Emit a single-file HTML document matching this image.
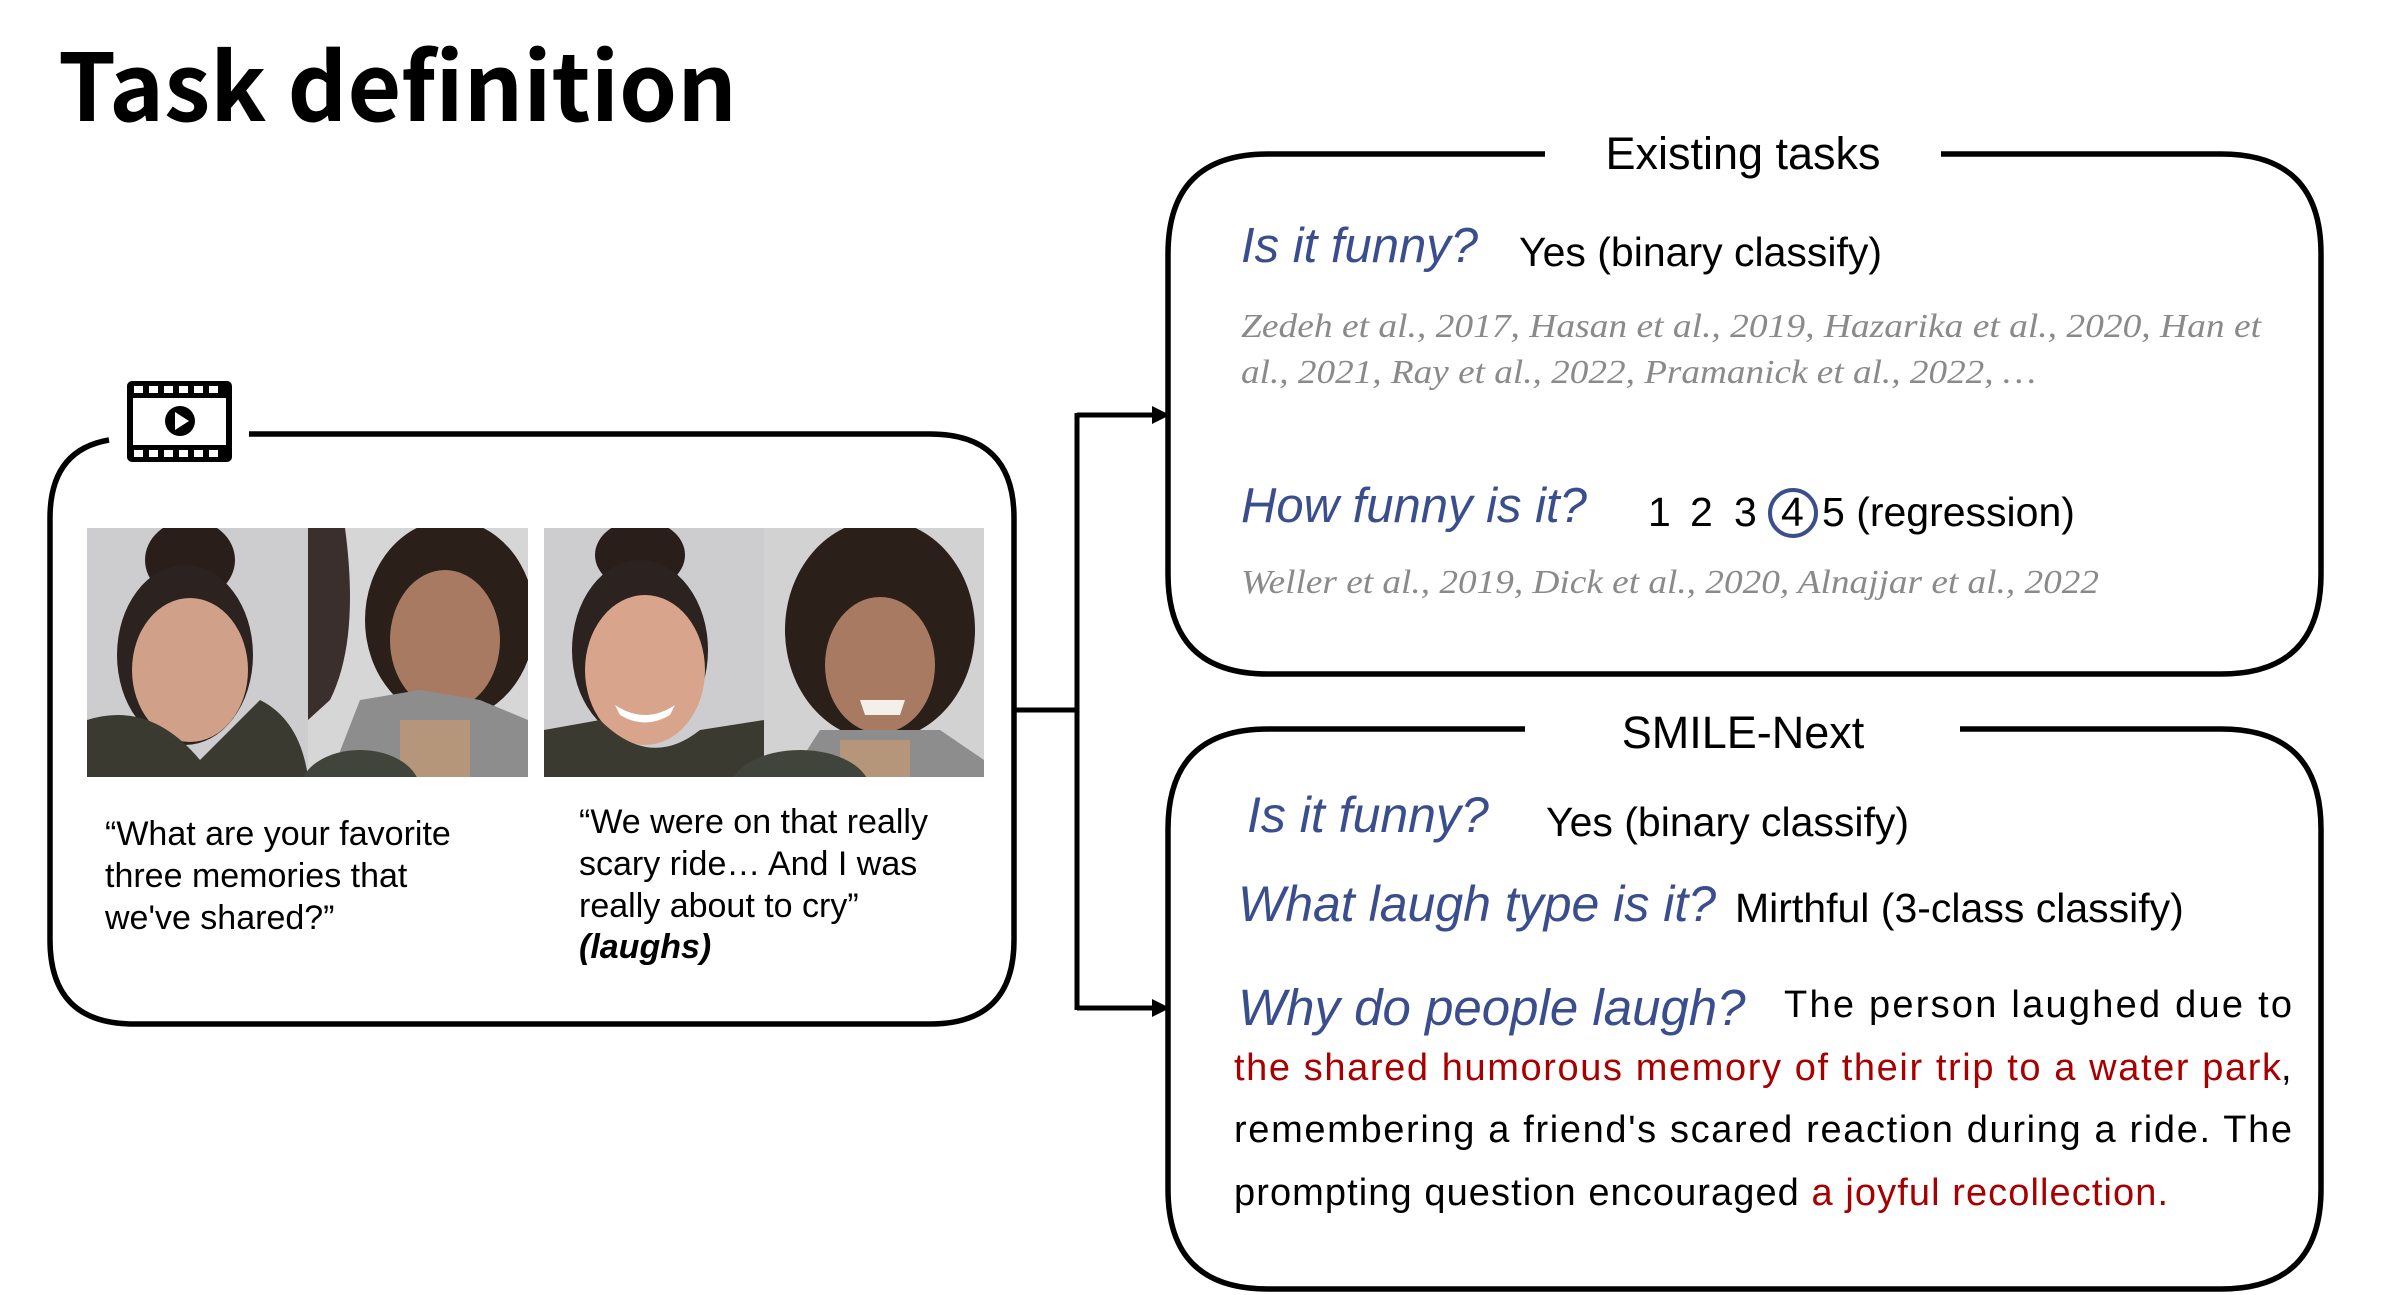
<!DOCTYPE html>
<html><head><meta charset="utf-8"><style>
html,body{margin:0;padding:0;background:#fff;}
svg{display:block;}
.ko{font-family:"Liberation Sans","Noto Sans CJK KR",sans-serif;}
</style></head><body>
<svg width="2395" height="1295" viewBox="0 0 2395 1295" xmlns="http://www.w3.org/2000/svg">
<defs>
<clipPath id="c1"><rect x="87" y="528" width="441" height="249"/></clipPath>
<clipPath id="c2"><rect x="544" y="528" width="440" height="249"/></clipPath>
<marker id="ah" markerWidth="18" markerHeight="18" refX="14" refY="9" orient="auto" markerUnits="userSpaceOnUse"><path d="M0,0 L18,9 L0,18 z" fill="#000"/></marker>
</defs>
<text x="58" y="121" font-family="'Noto Sans CJK KR','Liberation Sans',sans-serif" font-weight="bold" font-size="93" fill="#000">Task definition</text>

<!-- left box -->
<path d="M249,434 L930,434 Q1014,434 1014,518 L1014,940 Q1014,1024 930,1024 L134,1024 Q50,1024 50,940 L50,518 Q50,450 109,440" fill="none" stroke="#000" stroke-width="5.5"/>
<g>
<rect x="127" y="381" width="105" height="81" rx="5" fill="#000"/>
<rect x="133" y="398" width="93" height="47" fill="#fff"/>
<g fill="#fff">
<rect x="134" y="386" width="9" height="7"/><rect x="149" y="386" width="9" height="7"/><rect x="164" y="386" width="9" height="7"/><rect x="179" y="386" width="9" height="7"/><rect x="194" y="386" width="9" height="7"/><rect x="209" y="386" width="9" height="7"/>
<rect x="134" y="450" width="9" height="7"/><rect x="149" y="450" width="9" height="7"/><rect x="164" y="450" width="9" height="7"/><rect x="179" y="450" width="9" height="7"/><rect x="194" y="450" width="9" height="7"/><rect x="209" y="450" width="9" height="7"/>
</g>
<circle cx="180" cy="421" r="15" fill="#000"/>
<path d="M175,412 L189,421 L175,430 z" fill="#fff"/>
</g>

<g clip-path="url(#c1)">
<rect x="87" y="528" width="221" height="249" fill="#cdcdcf"/>
<ellipse cx="190" cy="560" rx="45" ry="40" fill="#2a1e1a"/>
<ellipse cx="185" cy="655" rx="68" ry="90" fill="#2c2220"/>
<ellipse cx="190" cy="670" rx="58" ry="72" fill="#d0a088"/>
<path d="M87,720 Q150,700 200,760 L260,700 Q300,720 308,777 L87,777 z" fill="#3b3a30"/>
<rect x="308" y="528" width="220" height="249" fill="#d6d6d6"/>
<path d="M308,528 L345,528 Q360,640 330,700 L308,720 z" fill="#3a2f2c"/>
<ellipse cx="450" cy="620" rx="85" ry="100" fill="#2a1f19"/>
<ellipse cx="445" cy="640" rx="55" ry="70" fill="#a87a62"/>
<path d="M360,700 L420,690 L480,700 L528,720 L528,777 L330,777 z" fill="#8d8d8d"/>
<path d="M400,720 L470,720 L470,777 L400,777 z" fill="#b5967a"/>
<ellipse cx="360" cy="790" rx="60" ry="40" fill="#40443a"/>
</g>
<g clip-path="url(#c2)">
<rect x="544" y="528" width="220" height="249" fill="#cdcdcf"/>
<ellipse cx="640" cy="555" rx="45" ry="35" fill="#2a1e1a"/>
<ellipse cx="640" cy="650" rx="68" ry="90" fill="#2c2220"/>
<ellipse cx="645" cy="670" rx="60" ry="75" fill="#d8a48c"/>
<path d="M615,705 Q645,725 675,705 L670,715 Q645,730 620,715 z" fill="#fff"/>
<path d="M544,730 L600,720 Q650,770 700,730 L764,720 L764,777 L544,777 z" fill="#3b3a30"/>
<rect x="764" y="528" width="220" height="249" fill="#d2d2d2"/>
<ellipse cx="880" cy="630" rx="95" ry="110" fill="#2a1f19"/>
<ellipse cx="880" cy="665" rx="55" ry="68" fill="#a87a62"/>
<path d="M860,700 L905,700 L900,715 L865,715 z" fill="#f2f0e8"/>
<path d="M820,730 L940,730 L984,760 L984,777 L790,777 z" fill="#8d8d8d"/>
<rect x="840" y="740" width="70" height="37" fill="#b5967a"/>
<ellipse cx="800" cy="790" rx="70" ry="40" fill="#40443a"/>
</g>

<g font-family="'Liberation Sans',sans-serif" font-size="34" fill="#000">
<text x="105" y="845">“What are your favorite</text>
<text x="105" y="887">three memories that</text>
<text x="105" y="929">we've shared?”</text>
<text x="579" y="833">“We were on that really</text>
<text x="579" y="875">scary ride… And I was</text>
<text x="579" y="917">really about to cry”</text>
<text x="579" y="958" font-style="italic" font-weight="bold">(laughs)</text>
</g>

<path d="M1014,710 L1077,710" stroke="#000" stroke-width="5"/>
<path d="M1077,413 L1077,1010" stroke="#000" stroke-width="5"/>
<path d="M1077,415 L1166,415" stroke="#000" stroke-width="5" marker-end="url(#ah)"/>
<path d="M1077,1008 L1166,1008" stroke="#000" stroke-width="5" marker-end="url(#ah)"/>

<path d="M1545,154 L1268,154 Q1168,154 1168,254 L1168,574 Q1168,674 1268,674 L2221,674 Q2321,674 2321,574 L2321,254 Q2321,154 2221,154 L1941,154" fill="none" stroke="#000" stroke-width="5.5"/>
<text x="1743" y="169" text-anchor="middle" class="ko" font-size="45" fill="#000">Existing tasks</text>
<text x="1241" y="262" font-family="'Liberation Sans',sans-serif" font-style="italic" font-size="49" fill="#3a4e8e">Is it funny?</text>
<text x="1519" y="266" class="ko" font-size="41" fill="#000">Yes (binary classify)</text>
<g font-family="'Liberation Serif',serif" font-style="italic" font-size="34" fill="#8a8a8a">
<text x="1241" y="337" textLength="1020" lengthAdjust="spacingAndGlyphs">Zedeh et al., 2017, Hasan et al., 2019, Hazarika et al., 2020, Han et</text>
<text x="1241" y="383" textLength="795" lengthAdjust="spacingAndGlyphs">al., 2021, Ray et al., 2022, Pramanick et al., 2022, …</text>
<text x="1241" y="593" textLength="858" lengthAdjust="spacingAndGlyphs">Weller et al., 2019, Dick et al., 2020, Alnajjar et al., 2022</text>
</g>
<text x="1241" y="522" font-family="'Liberation Sans',sans-serif" font-style="italic" font-size="49" fill="#3a4e8e">How funny is it?</text>
<text x="1648" y="526" class="ko" font-size="41" fill="#000">1</text>
<text x="1690" y="526" class="ko" font-size="41" fill="#000">2</text>
<text x="1734" y="526" class="ko" font-size="41" fill="#000">3</text>
<text x="1781" y="526" class="ko" font-size="41" fill="#000">4</text>
<circle cx="1793" cy="513" r="23" fill="none" stroke="#3a4e8e" stroke-width="4"/>
<text x="1822" y="526" class="ko" font-size="41" fill="#000">5 (regression)</text>

<path d="M1525,729 L1268,729 Q1168,729 1168,829 L1168,1189 Q1168,1289 1268,1289 L2221,1289 Q2321,1289 2321,1189 L2321,829 Q2321,729 2221,729 L1960,729" fill="none" stroke="#000" stroke-width="5.5"/>
<text x="1743" y="748" text-anchor="middle" class="ko" font-size="45" fill="#000">SMILE-Next</text>
<text x="1247" y="832" font-family="'Liberation Sans',sans-serif" font-style="italic" font-size="50" fill="#3a4e8e">Is it funny?</text>
<text x="1546" y="836" class="ko" font-size="41" fill="#000">Yes (binary classify)</text>
<text x="1238" y="921" font-family="'Liberation Sans',sans-serif" font-style="italic" font-size="50" fill="#3a4e8e">What laugh type is it?</text>
<text x="1735" y="922" class="ko" font-size="41" fill="#000">Mirthful (3-class classify)</text>
<text x="1238" y="1025" font-family="'Liberation Sans',sans-serif" font-style="italic" font-size="51" fill="#3a4e8e">Why do people laugh?</text>
<g font-family="'Liberation Sans',sans-serif" font-size="38">
<text x="1784" y="1017" textLength="508" fill="#000">The person laughed due to</text>
<text x="1234" y="1080" textLength="1047" fill="#a80000">the shared humorous memory of their trip to a water park</text>
<text x="2281" y="1080" fill="#000">,</text>
<text x="1234" y="1142" textLength="1058" fill="#000">remembering a friend's scared reaction during a ride. The</text>
<text x="1234" y="1205" textLength="934" fill="#000">prompting question encouraged <tspan fill="#a80000">a joyful recollection.</tspan></text>
</g>
</svg>
</body></html>
